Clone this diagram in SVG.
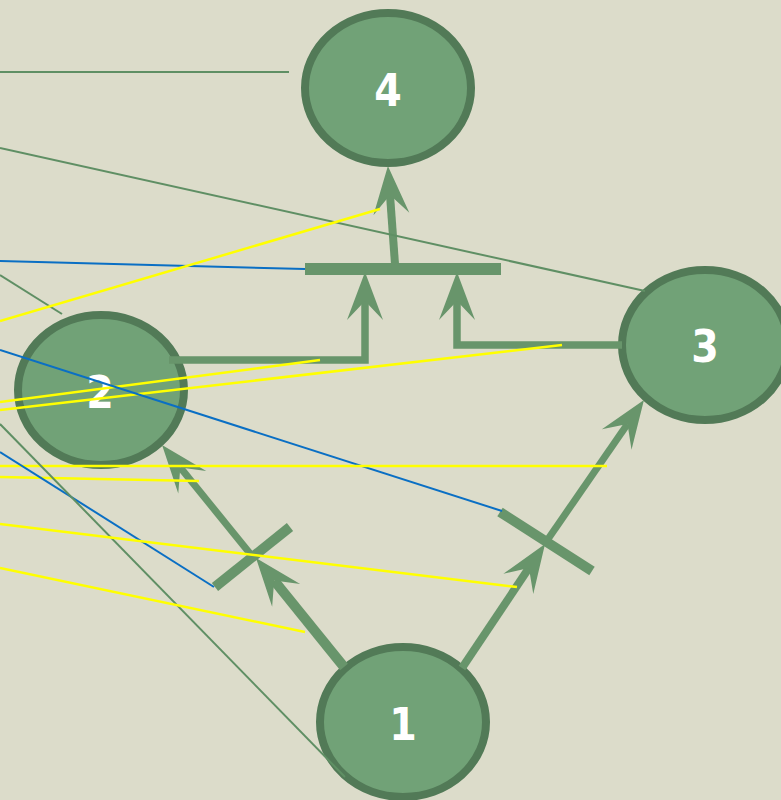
<svg xmlns="http://www.w3.org/2000/svg" width="781" height="800" viewBox="0 0 781 800">
<style>
.node{fill:#71a277;stroke:#527a57;stroke-width:8}
.lbl{font-family:"DejaVu Sans Condensed","DejaVu Sans","Liberation Sans",sans-serif;font-stretch:condensed;font-weight:bold;font-size:44px;fill:#ffffff;text-anchor:middle}
.edge{fill:none;stroke:#68956b;stroke-linejoin:miter}
.thin-g{stroke:#5f8f64;stroke-width:2;fill:none}
.thin-b{stroke:#0a6fc4;stroke-width:2;fill:none}
.thin-y{stroke:#ffff00;stroke-width:2.5;fill:none}
</style>
<defs>
<marker id="ah" markerUnits="userSpaceOnUse" viewBox="-20 -20 50 40" refX="0" refY="0" markerWidth="50" markerHeight="40" orient="auto" overflow="visible">
<path d="M29,0 L-19,-18 L0,0 L-19,18 Z" fill="#68956b"/>
</marker>
</defs>
<rect x="0" y="0" width="781" height="800" fill="#dcdcca"/>
<g id="node4"><ellipse class="node" cx="388" cy="88" rx="83" ry="75"/><text class="lbl" x="388" y="106">4</text></g>
<g id="node2"><ellipse class="node" cx="101" cy="390" rx="83" ry="75"/><text class="lbl" x="100" y="408">2</text></g>
<g id="node3"><ellipse class="node" cx="705" cy="345" rx="83" ry="75"/><text class="lbl" x="705" y="362">3</text></g>
<g id="node1"><ellipse class="node" cx="403" cy="722" rx="83" ry="75"/><text class="lbl" x="403" y="740">1</text></g>
<g id="connectors">
<line class="edge" stroke-width="10" x1="344" y1="667" x2="274.2" y2="580.6" marker-end="url(#ah)"/>
<line class="edge" stroke-width="7" x1="252" y1="556" x2="180.3" y2="467.5" marker-end="url(#ah)"/>
<line class="edge" stroke-width="10" x1="215" y1="587" x2="290" y2="527"/>
<line class="edge" stroke-width="8" x1="462" y1="668" x2="528.9" y2="568.1" marker-end="url(#ah)"/>
<line class="edge" stroke-width="7" x1="546" y1="542" x2="627.5" y2="423.9" marker-end="url(#ah)"/>
<line class="edge" stroke-width="10" x1="500" y1="512" x2="592" y2="571"/>
<rect x="305" y="263" width="196" height="12" fill="#68956b"/>
<line class="edge" stroke-width="8" x1="395" y1="264" x2="390" y2="195" marker-end="url(#ah)"/>
<polyline class="edge" stroke-width="7.5" points="169,360 365,360 365,301" marker-end="url(#ah)"/>
<polyline class="edge" stroke-width="7.5" points="622,345 457,345 457,301" marker-end="url(#ah)"/>
</g>
<g id="overlay-lines">
<line class="thin-g" x1="0" y1="72" x2="289" y2="72"/>
<line class="thin-g" x1="0" y1="148" x2="645" y2="291"/>
<line class="thin-b" x1="0" y1="261" x2="305" y2="269"/>
<line class="thin-g" x1="0" y1="275" x2="62" y2="314"/>
<line class="thin-y" x1="0" y1="321" x2="380" y2="209"/>
<line class="thin-y" x1="0" y1="402" x2="320" y2="360"/>
<line class="thin-y" x1="0" y1="410" x2="562" y2="345"/>
<line class="thin-b" x1="0" y1="350" x2="502" y2="511"/>
<line class="thin-y" x1="0" y1="466" x2="607" y2="466"/>
<line class="thin-y" x1="0" y1="477" x2="199" y2="481"/>
<line class="thin-b" x1="0" y1="452" x2="214" y2="587"/>
<line class="thin-g" x1="0" y1="424" x2="345" y2="777"/>
<line class="thin-y" x1="0" y1="524" x2="517" y2="587"/>
<line class="thin-y" x1="0" y1="568" x2="305" y2="632"/>
</g>
</svg>
